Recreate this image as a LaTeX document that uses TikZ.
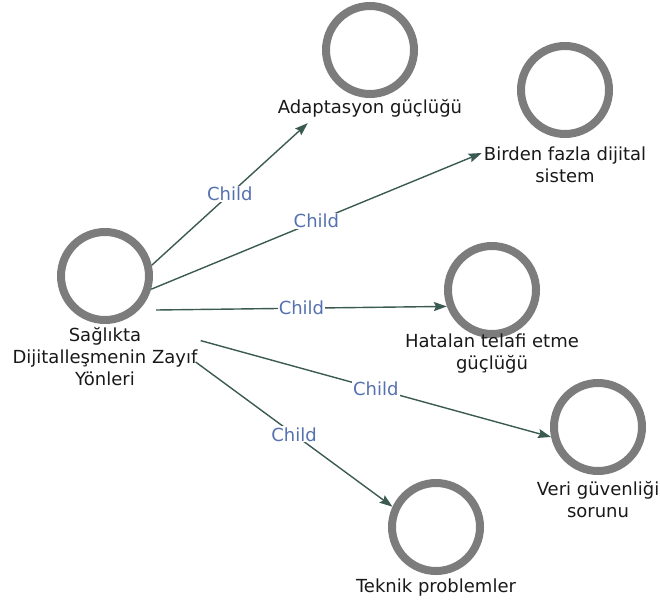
\documentclass[tikz,border=0pt]{standalone}
\usepackage{fontspec}
\setmainfont{DejaVu Sans}
\usetikzlibrary{arrows.meta}

\definecolor{ringgray}{HTML}{7C7C7C}
\definecolor{linkgreen}{HTML}{3B5B52}
\definecolor{childblue}{HTML}{5671B0}

\tikzstyle{ring} = [circle, draw=ringgray, line width=8pt, minimum size=88pt, inner sep=0pt]
\tikzstyle{caption} = [align=center, inner sep=2pt, text=black!90, font=\fontsize{18}{22}\selectfont]
\tikzstyle{link} = [draw=linkgreen, line width=1.4pt, -{Stealth[length=13pt,width=9pt,inset=2pt]}]
\tikzstyle{childlbl} = [midway, fill=white, inner sep=1pt, text=childblue, font=\fontsize{18}{22}\selectfont]

\begin{document}
\begin{tikzpicture}[x=1pt,y=1pt]
\useasboundingbox (0,0) rectangle (660,-604);

\node [ring] (zayif) at (105,-276) {};
\node [caption] (zayiftxt) at (105,-357) {Sağlıkta\\Dijitalleşmenin Zayıf\\Yönleri};

\node [ring] (adapt) at (370,-50) {};
\node [caption] (adapttxt) at (370,-108) {Adaptasyon güçlüğü};

\node [ring] (birden) at (565,-90) {};
\node [caption] (birdentxt) at (565,-165) {Birden fazla dijital\\sistem};

\node [ring] (hata) at (492,-290) {};
\node [caption] (hatatxt) at (492,-354) {Hatalan telafi etme\\güçlüğü};

\node [ring] (veri) at (598,-427) {};
\node [caption] (veritxt) at (598,-500) {Veri güvenliği\\sorunu};

\node [ring] (teknik) at (436,-527) {};
\node [caption] (teknitxt) at (436,-588) {Teknik problemler};

\draw [link] (zayif.13) -- ([xshift=32pt,yshift=-4pt]adapttxt.south west)
	node [childlbl] {Child};
\draw [link] (zayif.-16) -- ([yshift=12pt]birdentxt.west)
	node [childlbl] {Child};
\draw [link] ([xshift=3pt,yshift=-34pt]zayif.east) -- (hata.200)
	node [childlbl] {Child};
\draw [link] ([xshift=1pt,yshift=-15pt]zayiftxt.north east) -- (veri.192)
	node [childlbl] {Child};
\draw [link] ([xshift=-4pt,yshift=-5pt]zayiftxt.east) -- (teknik.155)
	node [childlbl] {Child};
\end{tikzpicture}
\end{document}
